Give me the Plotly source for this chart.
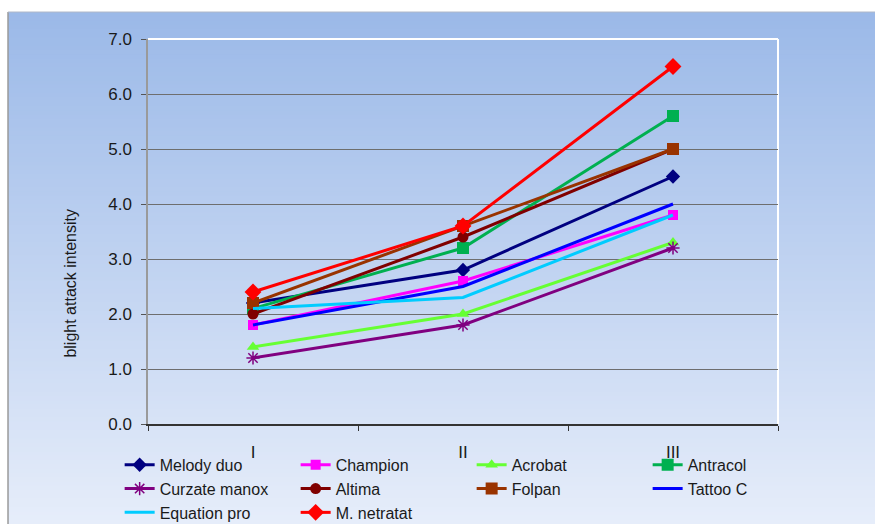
import plotly.graph_objects as go

# Assessment dates (x categories)
periods = ["I", "II", "III"]

# Blight attack intensity per fungicide treatment
melody_duo = [2.2, 2.8, 4.5]
champion = [1.8, 2.6, 3.8]
acrobat = [1.4, 2.0, 3.3]
antracol = [2.1, 3.2, 5.6]
curzate_manox = [1.2, 1.8, 3.2]
altima = [2.0, 3.4, 5.0]
folpan = [2.2, 3.6, 5.0]
tattoo_c = [1.8, 2.5, 4.0]
equation_pro = [2.1, 2.3, 3.8]
m_netratat = [2.4, 3.6, 6.5]

y_ticks = [0, 1, 2, 3, 4, 5, 6, 7]

series = [
    ("Melody duo", melody_duo, "#000080", "diamond", 11),
    ("Champion", champion, "#FF00FF", "square", 10),
    ("Acrobat", acrobat, "#66FF33", "triangle-up", 11),
    ("Antracol", antracol, "#00B050", "square", 12),
    ("Curzate manox", curzate_manox, "#800080", "asterisk-open", 11),
    ("Altima", altima, "#800000", "circle", 11),
    ("Folpan", folpan, "#993300", "square", 12),
    ("Tattoo C", tattoo_c, "#0000FF", None, 0),
    ("Equation pro", equation_pro, "#00CCFF", None, 0),
    ("M. netratat", m_netratat, "#FF0000", "diamond", 13),
]

fig = go.Figure()
for name, vals, color, symbol, size in series:
    if symbol is None:
        fig.add_trace(go.Scatter(x=periods, y=vals, name=name, mode="lines",
                                 line=dict(color=color, width=3)))
    else:
        marker = dict(symbol=symbol, size=size, color=color,
                      line=dict(color=color, width=1.5 if "open" in symbol else 0))
        fig.add_trace(go.Scatter(x=periods, y=vals, name=name, mode="lines+markers",
                                 line=dict(color=color, width=3), marker=marker))

# Vertical gradient fill behind the whole chart area
x0, x1 = -0.2222, 1.1540
y_bot, y_top = -0.2597, 1.0701
top_rgb = (155, 185, 232)
bot_rgb = (230, 237, 250)
n = 120
shapes = []
for i in range(n):
    t = i / (n - 1)
    c = tuple(round(top_rgb[k] + (bot_rgb[k] - top_rgb[k]) * t) for k in range(3))
    ya = y_top - (y_top - y_bot) * i / n
    yb = y_top - (y_top - y_bot) * (i + 1) / n
    shapes.append(dict(type="rect", xref="paper", yref="paper", x0=x0, x1=x1,
                       y0=yb - 0.002, y1=ya, line=dict(width=0),
                       fillcolor="rgb(%d,%d,%d)" % c, layer="below"))
# chart-area border (left and top)
shapes.append(dict(type="line", xref="paper", yref="paper", x0=x0, x1=x0,
                   y0=y_bot, y1=y_top, line=dict(color="#9a9a9a", width=1.5), layer="below"))
shapes.append(dict(type="line", xref="paper", yref="paper", x0=x0, x1=x1,
                   y0=y_top, y1=y_top, line=dict(color="#b0b8c8", width=1), layer="below"))
# white plot-area border on top and right
shapes.append(dict(type="line", xref="paper", yref="paper", x0=0, x1=1, y0=1, y1=1,
                   line=dict(color="white", width=2), layer="above"))
shapes.append(dict(type="line", xref="paper", yref="paper", x0=1, x1=1, y0=0, y1=1,
                   line=dict(color="white", width=2), layer="below"))

fig.update_layout(
    width=875, height=524,
    margin=dict(l=148, r=97, t=39, b=100, autoexpand=False),
    paper_bgcolor="white",
    plot_bgcolor="rgba(0,0,0,0)",
    font=dict(family="Liberation Sans, Arial, sans-serif", size=17, color="#1a1a1a"),
    shapes=shapes,
    showlegend=True,
    legend=dict(orientation="h", x=-0.045, y=-0.062, xanchor="left", yanchor="top",
                entrywidth=131, bgcolor="rgba(0,0,0,0)", font=dict(size=16),
                tracegroupgap=0, itemwidth=30),
    annotations=[dict(text="blight attack intensity", xref="paper", yref="paper",
                      x=-0.1397, y=0.366, textangle=-90, showarrow=False,
                      font=dict(size=16, color="#1a1a1a"))],
)

fig.update_xaxes(type="category", range=[-0.5, 2.5], tickson="boundaries",
                 ticks="outside", ticklen=5, tickcolor="#333333",
                 showline=True, linecolor="#333333", linewidth=1.5,
                 showgrid=False, ticklabelstandoff=12, tickfont=dict(size=17))
fig.update_yaxes(range=[0, 7], tickvals=y_ticks, tickformat=".1f",
                 ticks="outside", ticklen=5, tickcolor="#555555",
                 showline=True, linecolor="#9a9a9a", linewidth=1.5,
                 showgrid=True, gridcolor="#6e6e6e", gridwidth=1,
                 zeroline=False, ticklabelstandoff=6, tickfont=dict(size=17))

fig.write_html("out.html")
